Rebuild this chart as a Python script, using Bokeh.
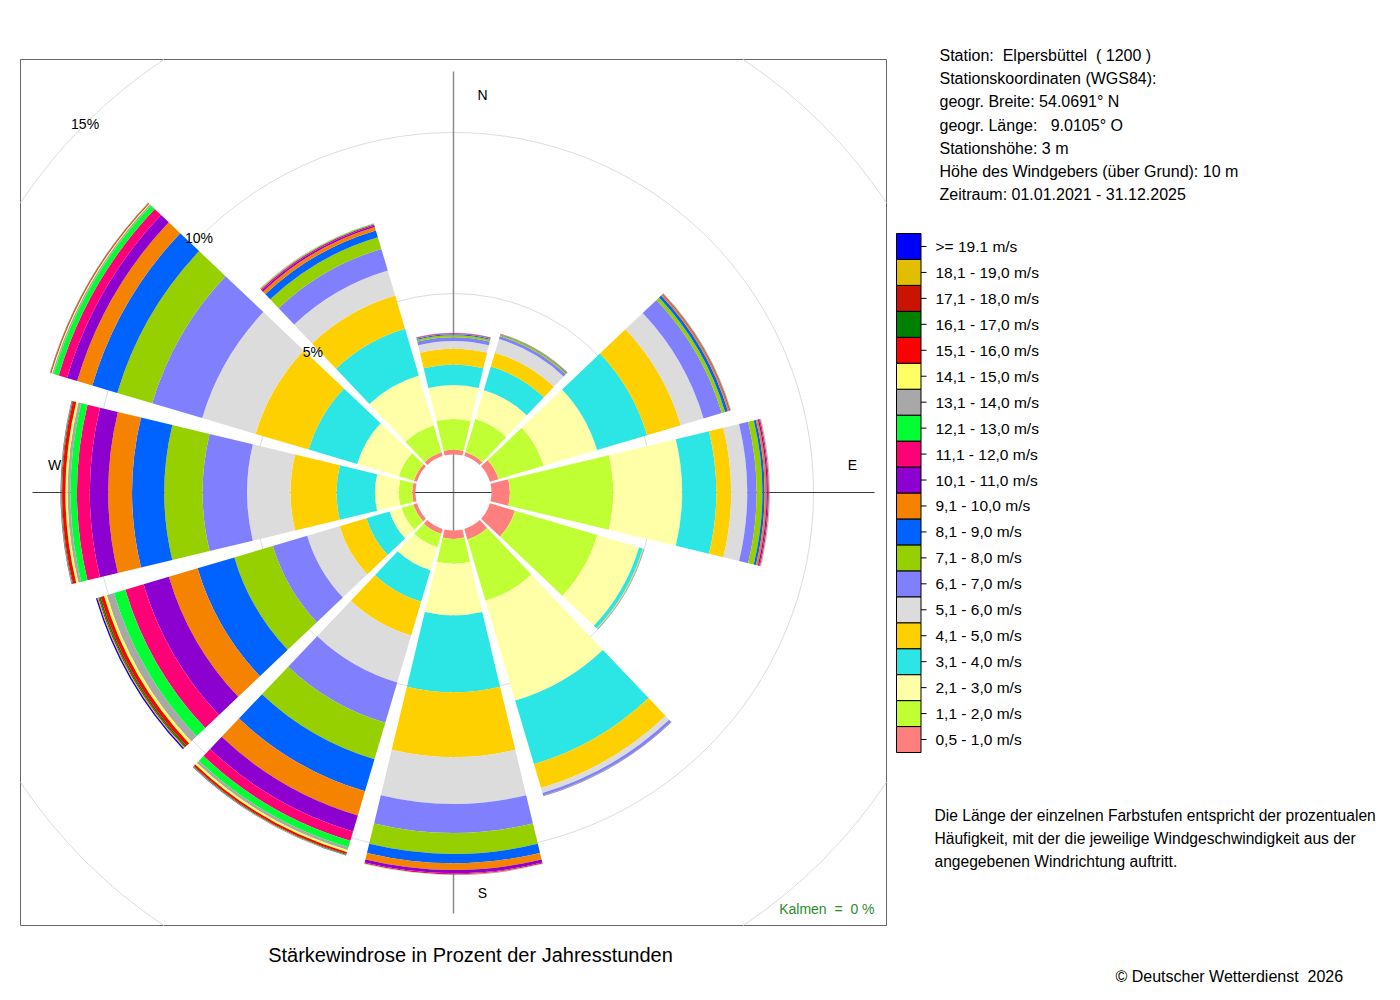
import numpy as np
from bokeh.plotting import figure
from bokeh.models import Range1d, ColumnDataSource
from bokeh.embed import file_html
from bokeh.resources import INLINE
from bokeh.core.properties import value

# ---------------- data ----------------
direction_deg = [0, 30, 60, 90, 120, 150, 180, 210, 240, 270, 300, 330]
direction_names = ["N", "NNO", "ONO", "O", "OSO", "SSO", "S", "SSW", "WSW", "W", "WNW", "NNW"]

speed_labels = ["0,5 - 1,0 m/s", "1,1 - 2,0 m/s", "2,1 - 3,0 m/s", "3,1 - 4,0 m/s",
                "4,1 - 5,0 m/s", "5,1 - 6,0 m/s", "6,1 - 7,0 m/s", "7,1 - 8,0 m/s",
                "8,1 - 9,0 m/s", "9,1 - 10,0 m/s", "10,1 - 11,0 m/s", "11,1 - 12,0 m/s",
                "12,1 - 13,0 m/s", "13,1 - 14,0 m/s", "14,1 - 15,0 m/s", "15,1 - 16,0 m/s",
                "16,1 - 17,0 m/s", "17,1 - 18,0 m/s", "18,1 - 19,0 m/s", ">= 19.1 m/s"]

speed_colors = ["#FF7F7F", "#BFFF33", "#FFFFA8", "#2CE6E6", "#FFD000", "#DCDCDC",
                "#8080FF", "#96D000", "#0062FF", "#F68300", "#8C00D0", "#FF0077",
                "#00FF33", "#A8A8A8", "#FFFF66", "#FF0000", "#008000", "#C81400",
                "#E1BE00", "#0000FF"]

# percent of year hours per speed class (0,5-1,0 first ... >=19.1 last)
freq_N   = [0.15, 0.95, 1.06, 0.63, 0.49, 0.24, 0.12, 0.06, 0.03, 0.02, 0.01, 0.01, 0.005, 0.003, 0.002, 0.002, 0, 0, 0, 0]
freq_NNO = [0.12, 1.08, 0.93, 0.77, 0.45, 0.44, 0.09, 0.04, 0.02, 0.01, 0.005, 0.005, 0.003, 0.002, 0, 0, 0, 0, 0, 0]
freq_ONO = [0.28, 1.46, 1.73, 1.62, 1.09, 0.74, 0.59, 0.11, 0.09, 0.05, 0.02, 0.01, 0.01, 0.005, 0.003, 0.003, 0, 0, 0, 0]
freq_O   = [0.57, 3.21, 2.14, 1.06, 0.46, 0.50, 0.29, 0.18, 0.07, 0.06, 0.04, 0.03, 0.01, 0.01, 0.005, 0.005, 0, 0, 0, 0]
freq_OSO = [0.81, 2.67, 1.35, 0.12, 0.02, 0.01, 0.01, 0.005, 0.003, 0, 0, 0, 0, 0, 0, 0, 0, 0, 0, 0]
freq_SSO = [0.34, 1.99, 3.23, 2.06, 0.77, 0.16, 0.08, 0.01, 0.01, 0.005, 0.003, 0, 0, 0, 0, 0, 0, 0, 0, 0]
freq_S   = [0.26, 0.77, 1.61, 2.38, 2.02, 1.45, 0.90, 0.65, 0.29, 0.21, 0.10, 0.03, 0.01, 0.005, 0.005, 0.005, 0, 0, 0, 0]
freq_SSW = [0.16, 0.43, 0.75, 1.02, 1.09, 1.52, 1.31, 1.18, 1.04, 0.78, 0.52, 0.30, 0.21, 0.09, 0.07, 0.06, 0.02, 0.01, 0.01, 0.01]
freq_WSW = [0.12, 0.38, 0.39, 0.75, 0.87, 1.05, 1.11, 1.25, 1.19, 0.93, 0.82, 0.59, 0.37, 0.23, 0.09, 0.11, 0.05, 0.03, 0.03, 0.04]
freq_W   = [0.10, 0.42, 0.74, 1.19, 1.43, 1.35, 1.38, 1.19, 1.00, 0.74, 0.57, 0.40, 0.20, 0.09, 0.07, 0.10, 0.02, 0.01, 0.01, 0.01]
freq_WNW = [0.10, 0.49, 1.35, 1.57, 1.72, 1.73, 1.62, 1.13, 0.81, 0.49, 0.33, 0.27, 0.16, 0.05, 0.03, 0.02, 0.01, 0.005, 0.005, 0.005]
freq_NNW = [0.12, 0.87, 1.62, 1.51, 1.08, 0.81, 0.70, 0.38, 0.22, 0.11, 0.05, 0.04, 0.02, 0.01, 0.005, 0.005, 0, 0, 0, 0]

ring_pcts = [5, 10, 15]
calm_pct = 0

NB = "\u00a0"
station_lines = [f"Station:{NB} Elpersbüttel{NB} ( 1200 )",
                 "Stationskoordinaten (WGS84):",
                 "geogr. Breite: 54.0691° N",
                 f"geogr. Länge:{NB}{NB} 9.0105° O",
                 "Stationshöhe: 3 m",
                 "Höhe des Windgebers (über Grund): 10 m",
                 "Zeitraum: 01.01.2021 - 31.12.2025"]
note_lines = ["Die Länge der einzelnen Farbstufen entspricht der prozentualen",
              "Häufigkeit, mit der die jeweilige Windgeschwindigkeit aus der",
              "angegebenen Windrichtung auftritt."]
title_text = "Stärkewindrose in Prozent der Jahresstunden"
copyright_text = f"© Deutscher Wetterdienst{NB} 2026"
calm_text = f"Kalmen{NB} ={NB} {calm_pct} %"

all_freqs = [freq_N, freq_NNO, freq_ONO, freq_O, freq_OSO, freq_SSO,
             freq_S, freq_SSW, freq_WSW, freq_W, freq_WNW, freq_NNW]

# ---------------- geometry (page pixel -> data units, 1 unit = 1 %) ----------------
K = 32.2            # pixels per percent
CX, CY = 453, 492   # page position of rose centre
HOLE = 38 / K       # empty centre radius
HALF = 13.5         # half sector width in degrees
FONT = value("Liberation Sans")


def X(px):
    return (px - CX) / K


def Y(py):
    return (CY - py) / K


p = figure(width=1384, height=984,
           x_range=Range1d(X(0), X(1384)), y_range=Range1d(Y(984), Y(0)),
           output_backend="svg", toolbar_location=None,
           x_axis_location=None, y_axis_location=None, min_border=0)
p.grid.visible = False
p.outline_line_color = None
p.background_fill_color = "white"
p.border_fill_color = "white"

# frame of the rose
box = X(886)
p.quad(left=[-box], right=[box], top=[box], bottom=[-box],
       fill_color=None, line_color="#666666", line_width=1)

# percentage circles (15% only inside the frame)
for pct in ring_pcts:
    r = HOLE + pct
    if r < box:
        p.circle(x=[0], y=[0], radius=r, fill_color=None, line_color="#dcdcdc", line_width=1)
    else:
        a0 = np.arccos(box / r)
        starts = [a0 + k * np.pi / 2 for k in range(4)]
        ends = [np.pi / 2 - a0 + k * np.pi / 2 for k in range(4)]
        p.arc(x=[0] * 4, y=[0] * 4, radius=r, start_angle=starts, end_angle=ends,
              line_color="#dcdcdc", line_width=1)

# axis cross, length = largest sector
axis_len = HOLE + max(sum(f) for f in all_freqs)
p.segment(x0=[0], y0=[-axis_len], x1=[0], y1=[axis_len], line_color="#8a8a8a", line_width=1.5)
p.segment(x0=[-axis_len], y0=[0], x1=[axis_len], y1=[0], line_color="#3a3a3a", line_width=1.2)

# wedges
xs, ys, rin, rout, sa, ea, col = [], [], [], [], [], [], []
for d, vals in zip(direction_deg, all_freqs):
    cum = np.concatenate([[0.0], np.cumsum(vals)])
    for i, v in enumerate(vals):
        if v <= 0:
            continue
        xs.append(0.0)
        ys.append(0.0)
        rin.append(HOLE + cum[i])
        rout.append(HOLE + cum[i + 1])
        sa.append(np.radians(90 - d - HALF))
        ea.append(np.radians(90 - d + HALF))
        col.append(speed_colors[i])
src = ColumnDataSource(dict(x=xs, y=ys, r0=rin, r1=rout, sa=sa, ea=ea, c=col))
p.annular_wedge(x="x", y="y", inner_radius="r0", outer_radius="r1",
                start_angle="sa", end_angle="ea", fill_color="c", line_color=None, source=src)

# ring labels on the NW diagonal
ang = np.radians(135)
p.text(x=[(HOLE + q) * np.cos(ang) for q in ring_pcts],
       y=[(HOLE + q) * np.sin(ang) for q in ring_pcts],
       text=[f"{q}%" for q in ring_pcts], text_font=FONT, text_font_size="14px",
       text_align="center", text_baseline="middle", text_color="black")

# compass letters
p.text(x=[X(482), X(852), X(482), X(54)], y=[Y(94), Y(464), Y(892), Y(464)],
       text=["N", "E", "S", "W"], text_font=FONT, text_font_size="14px",
       text_align="center", text_baseline="middle", text_color="black")

# calm
p.text(x=[X(874)], y=[Y(908)], text=[calm_text], text_font=FONT,
       text_font_size="14px", text_align="right", text_baseline="middle", text_color="#2A8C2A")

# title
p.text(x=[X(470)], y=[Y(954)], text=[title_text], text_font=FONT, text_font_size="20px",
       text_align="center", text_baseline="middle", text_color="black")

# station info
p.text(x=[X(939)] * len(station_lines), y=[Y(55 + 23.17 * k) for k in range(len(station_lines))],
       text=station_lines, text_font=FONT, text_font_size="16px",
       text_align="left", text_baseline="middle", text_color="black")

# legend
n = len(speed_labels)
bh = (752 - 233) / n
tops = [233 + (n - 1 - i) * bh for i in range(n)]
p.quad(left=[X(896)] * n, right=[X(920.5)] * n,
       top=[Y(t) for t in tops], bottom=[Y(t + bh) for t in tops],
       fill_color=speed_colors, line_color="black", line_width=1)
mids = [Y(t + bh / 2) for t in tops]
p.segment(x0=[X(920.5)] * n, x1=[X(926)] * n, y0=mids, y1=mids, line_color="black", line_width=1)
p.text(x=[X(935)] * n, y=mids, text=speed_labels, text_font=FONT, text_font_size="15.5px",
       text_align="left", text_baseline="middle", text_color="black")

# note
p.text(x=[X(934)] * len(note_lines), y=[Y(815 + 23 * k) for k in range(len(note_lines))],
       text=note_lines, text_font=FONT, text_font_size="15.6px",
       text_align="left", text_baseline="middle", text_color="black")

# copyright
p.text(x=[X(1115)], y=[Y(976)], text=[copyright_text], text_font=FONT, text_font_size="16px",
       text_align="left", text_baseline="middle", text_color="black")

open("out.html", "w").write(file_html(p, INLINE))
